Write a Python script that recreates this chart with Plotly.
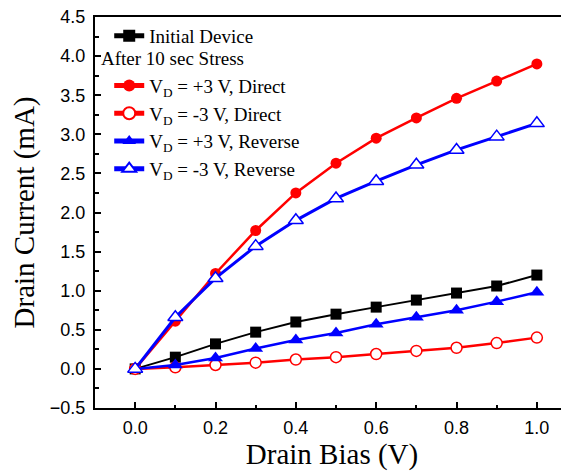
import plotly.graph_objects as go

# ------------------------------------------------------------------------
# Data
bias = [0.0, 0.1, 0.2, 0.3, 0.4, 0.5, 0.6, 0.7, 0.8, 0.9, 1.0]

i_initial = [0.0, 0.15, 0.32, 0.47, 0.60, 0.70, 0.79, 0.88, 0.97, 1.06, 1.20]
i_p3_direct = [0.0, 0.61, 1.22, 1.77, 2.25, 2.63, 2.95, 3.21, 3.46, 3.68, 3.90]
i_m3_direct = [0.0, 0.02, 0.05, 0.08, 0.12, 0.15, 0.19, 0.23, 0.27, 0.33, 0.40]
i_p3_reverse = [0.0, 0.05, 0.14, 0.26, 0.37, 0.46, 0.57, 0.66, 0.75, 0.86, 0.98]
i_m3_reverse = [0.0, 0.66, 1.16, 1.57, 1.90, 2.18, 2.40, 2.61, 2.80, 2.97, 3.14]

RED = "#FF0000"
BLUE = "#0000FF"
SERIF = "Liberation Serif, Times New Roman, serif"
SANS = "Liberation Sans, Arial, sans-serif"
# ------------------------------------------------------------------------

fig = go.Figure()

fig.add_trace(go.Scatter(
    x=bias, y=i_initial, name="Initial Device", legendgroup="a",
    mode="lines+markers",
    line=dict(color="black", width=2),
    marker=dict(symbol="square", size=11, color="black"),
))
fig.add_trace(go.Scatter(
    x=bias, y=i_p3_direct, name="V<sub>D</sub> = +3 V, Direct", legendgroup="b",
    mode="lines+markers",
    line=dict(color=RED, width=2.5),
    marker=dict(symbol="circle", size=11, color=RED),
))
fig.add_trace(go.Scatter(
    x=bias, y=i_m3_direct, name="V<sub>D</sub> = -3 V, Direct", legendgroup="b",
    mode="lines+markers",
    line=dict(color=RED, width=2.5),
    marker=dict(symbol="circle", size=11, color="white", line=dict(color=RED, width=1.5)),
))
fig.add_trace(go.Scatter(
    x=bias, y=i_p3_reverse, name="V<sub>D</sub> = +3 V, Reverse", legendgroup="b",
    mode="lines+markers",
    line=dict(color=BLUE, width=2.5),
    marker=dict(symbol="triangle-up", size=13, color=BLUE),
))
fig.add_trace(go.Scatter(
    x=bias, y=i_m3_reverse, name="V<sub>D</sub> = -3 V, Reverse", legendgroup="b",
    mode="lines+markers",
    line=dict(color=BLUE, width=3),
    marker=dict(symbol="triangle-up", size=13, color="white", line=dict(color=BLUE, width=1.5)),
))

# page body has an 8px margin, so the figure is sized/offset to fit the window
fig.update_layout(
    width=561, height=467,
    margin=dict(l=87, r=0, t=9, b=67, autoexpand=False),
    paper_bgcolor="white",
    plot_bgcolor="white",
    showlegend=True,
    legend=dict(
        x=0.03, y=1.0, xanchor="left", yanchor="top",
        bgcolor="rgba(0,0,0,0)",
        font=dict(family=SERIF, size=19, color="black"),
        traceorder="grouped",
        tracegroupgap=22,
        itemsizing="constant",
    ),
)

fig.update_xaxes(
    range=[-0.1, 1.08],
    dtick=0.2, tick0=0, tickformat=".1f",
    ticks="inside", ticklen=6, tickwidth=2, tickcolor="black",
    minor=dict(dtick=0.1, ticks="inside", ticklen=3, tickwidth=2, tickcolor="black"),
    showline=True, linewidth=2, linecolor="black", mirror=True,
    showgrid=False, zeroline=False,
    tickfont=dict(family=SANS, size=18, color="black"),
    ticklabelstandoff=2,
    title=dict(text="Drain Bias (V)", font=dict(family=SERIF, size=29, color="black"), standoff=4),
)

fig.update_yaxes(
    range=[-0.5, 4.5],
    dtick=0.5, tick0=0, tickformat=".1f",
    ticks="inside", ticklen=6, tickwidth=2, tickcolor="black",
    minor=dict(dtick=0.25, ticks="inside", ticklen=4, tickwidth=2, tickcolor="black"),
    showline=True, linewidth=2, linecolor="black", mirror=False,
    showgrid=False, zeroline=False,
    tickfont=dict(family=SANS, size=18, color="black"),
    ticklabelstandoff=4,
    ticklabeloverflow="allow",
    title=dict(text="Drain Current (mA)", font=dict(family=SERIF, size=29, color="black"), standoff=18),
)

fig.add_annotation(
    text="After 10 sec Stress", xref="paper", yref="paper",
    x=0.008, y=0.895, xanchor="left", yanchor="middle", showarrow=False,
    font=dict(family=SERIF, size=19, color="black"),
)

fig.write_html("out.html")
